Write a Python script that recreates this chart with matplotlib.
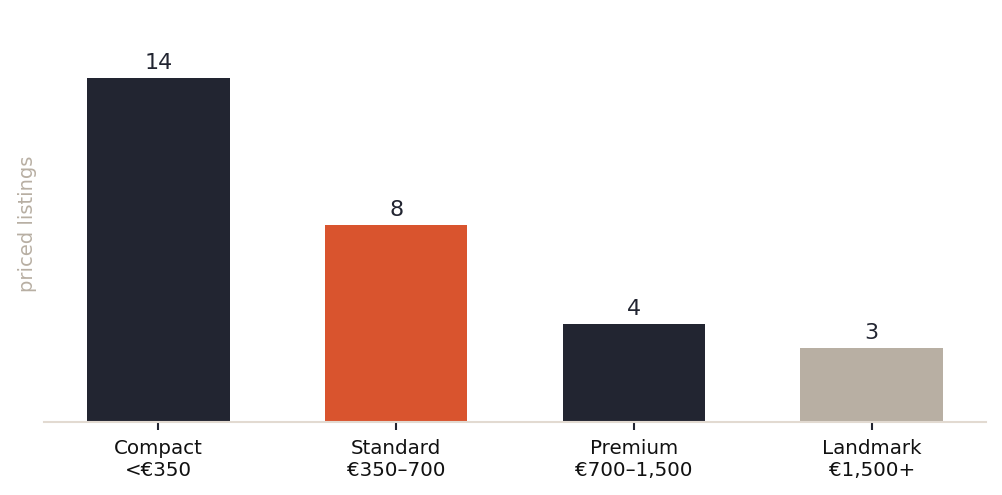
import numpy as np
import matplotlib.pyplot as plt

# data
categories = ['Compact\n<€350', 'Standard\n€350–700', 'Premium\n€700–1,500', 'Landmark\n€1,500+']
counts = [14, 8, 4, 3]
colors = ['#222531', '#D9542E', '#222531', '#B8AFA3']

fig = plt.figure(figsize=(10.02, 4.95), dpi=100)
ax = fig.add_axes([0.044, 0.1475, 0.940, 0.80])

x = np.arange(len(categories))
bars = ax.bar(x, counts, width=0.6, color=colors)
for b, v in zip(bars, counts):
    ax.text(b.get_x() + b.get_width() / 2, v + 0.2, str(v), ha='center', va='bottom',
            fontsize=16, color='#222531')

ax.set_xticks(x)
ax.set_xticklabels(categories, fontsize=14.3, color='#111111')
ax.set_yticks([])
ax.set_ylim(0, 16.1)
ax.set_ylabel('priced listings', fontsize=14, color='#B8AFA3', labelpad=5)

for s in ['top', 'right', 'left']:
    ax.spines[s].set_visible(False)
ax.spines['bottom'].set_color('#E2DAD1')
ax.spines['bottom'].set_linewidth(1.5)
ax.tick_params(axis='x', length=6, width=1.5, color='#222531', pad=6)

fig.savefig('out.png', dpi=100)
